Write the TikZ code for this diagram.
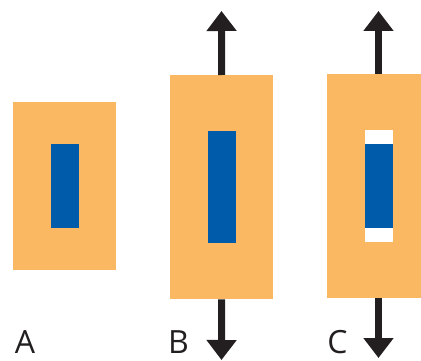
\documentclass[tikz,border=0pt]{standalone}
\usepackage{fontspec}
\setmainfont{Open Sans}
\usetikzlibrary{arrows.meta}
\definecolor{cOrange}{HTML}{FBB862}
\definecolor{cBlue}{HTML}{005BAA}
\definecolor{cArrow}{HTML}{231F20}
\tikzset{
  box/.style={fill=cOrange, draw=none, inner sep=0pt, anchor=north west},
  core/.style={fill=cBlue, draw=none, inner sep=0pt, anchor=north west},
  gap/.style={fill=white, draw=none, inner sep=0pt, anchor=north west},
  force/.style={draw=cArrow, line width=7pt, -{Triangle[width=29pt,length=20pt]}},
  lbl/.style={font=\fontsize{32}{34}\selectfont, text=cArrow, inner sep=0pt, anchor=base}
}
\begin{document}
\begin{tikzpicture}[x=1pt,y=-1pt]
\useasboundingbox (0,0) rectangle (421,361);
% A
\node[box, minimum width=103pt, minimum height=168pt] (boxA) at (13,102) {};
\node[core, minimum width=28pt, minimum height=84pt] (coreA) at (51,144) {};
% B
\node[box, minimum width=103pt, minimum height=224pt] (boxB) at (170,75) {};
\node[core, minimum width=28pt, minimum height=112pt] (coreB) at (208,131) {};
\coordinate (bUp) at (221.5,11);
\coordinate (bDn) at (221.5,360);
\draw[force] (boxB.north) -- (bUp);
\draw[force] (boxB.south) -- (bDn);
% C
\node[box, minimum width=94pt, minimum height=224pt] (boxC) at (327,74) {};
\node[gap, minimum width=28pt, minimum height=112pt] (gapC) at (365,130) {};
\node[core, minimum width=28pt, minimum height=84pt] (coreC) at (365,144) {};
\coordinate (cTop) at (378.5,74);
\coordinate (cBot) at (378.5,298);
\coordinate (cUp) at (378.5,11);
\coordinate (cDn) at (378.5,358);
\draw[force] (cTop) -- (cUp);
\draw[force] (cBot) -- (cDn);
% labels
\node[lbl] (lA) at (25,353) {A};
\node[lbl] (lB) at (178.5,353) {B};
\node[lbl] (lC) at (337.5,353) {C};
\end{tikzpicture}
\end{document}
